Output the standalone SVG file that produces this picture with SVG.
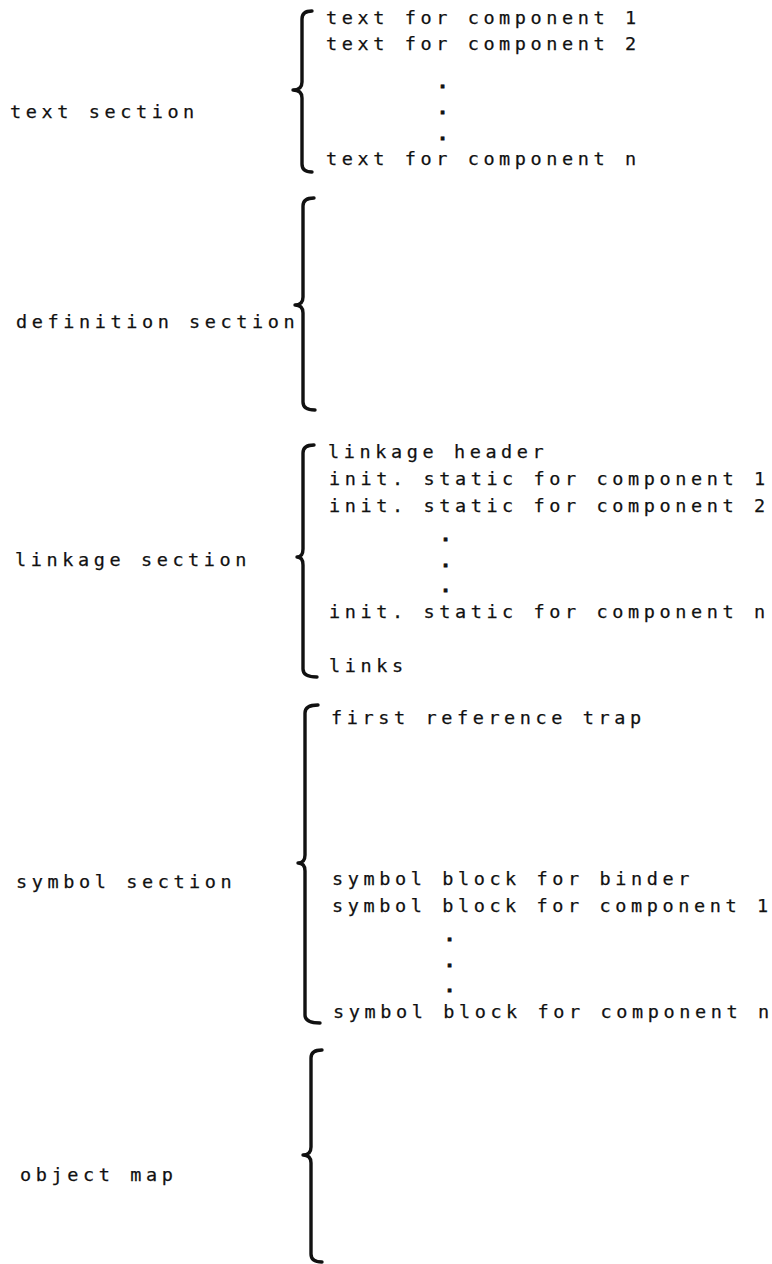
<svg xmlns="http://www.w3.org/2000/svg" width="772" height="1264" viewBox="0 0 772 1264">
<style>
text{font-family:"DejaVu Sans Mono","Liberation Mono",monospace;font-size:18.5px;letter-spacing:4.6px;fill:#111;stroke:#111;stroke-width:0.25}
text.dot{font-weight:bold;stroke-width:0.8}
.brace{fill:none;stroke:#111;stroke-width:3.4;stroke-linecap:round;stroke-linejoin:round}
</style>
<rect width="772" height="1264" fill="#fff"/>
<g id="text-section">
<text x="10" y="118">text section</text>
<path class="brace" d="M312 11 Q302 11 302 19 L302 82 Q302 90 293 90 Q302 90 302 98 L302 164 Q302 172 312 172"/>
<text x="326" y="24">text for component 1</text>
<text x="326" y="50">text for component 2</text>
<text class="dot" x="437" y="88">.</text>
<text class="dot" x="437" y="114">.</text>
<text class="dot" x="437" y="140">.</text>
<text x="326" y="165">text for component n</text>
</g>
<g id="definition-section">
<text x="16" y="328">definition section</text>
<path class="brace" d="M314 198 Q303 198 303 206 L303 297 Q303 305 295 305 Q303 305 303 313 L303 402 Q303 410 315 410"/>
</g>
<g id="linkage-section">
<text x="15" y="566">linkage section</text>
<path class="brace" d="M314 445 Q303 445 303 453 L303 549 Q303 557 297 557 Q303 557 303 565 L303 669 Q303 677 317 677"/>
<text x="328" y="458">linkage header</text>
<text x="329" y="485">init. static for component 1</text>
<text x="329" y="512">init. static for component 2</text>
<text class="dot" x="440" y="541">.</text>
<text class="dot" x="440" y="567">.</text>
<text class="dot" x="440" y="592">.</text>
<text x="329" y="618">init. static for component n</text>
<text x="329" y="672">links</text>
</g>
<g id="symbol-section">
<text x="16" y="888">symbol section</text>
<path class="brace" d="M318 705 Q305 705 305 713 L305 855 Q305 863 298 863 Q305 863 305 871 L305 1015 Q305 1023 320 1023"/>
<text x="331" y="724">first reference trap</text>
<text x="332" y="885">symbol block for binder</text>
<text x="332" y="912">symbol block for component 1</text>
<text class="dot" x="444" y="941">.</text>
<text class="dot" x="444" y="967">.</text>
<text class="dot" x="444" y="992">.</text>
<text x="333" y="1018">symbol block for component n</text>
</g>
<g id="object-map">
<text x="20" y="1181">object map</text>
<path class="brace" d="M322 1050 Q311 1050 311 1058 L311 1147 Q311 1155 303 1155 Q311 1155 311 1163 L311 1254 Q311 1262 322 1262"/>
</g>
</svg>
